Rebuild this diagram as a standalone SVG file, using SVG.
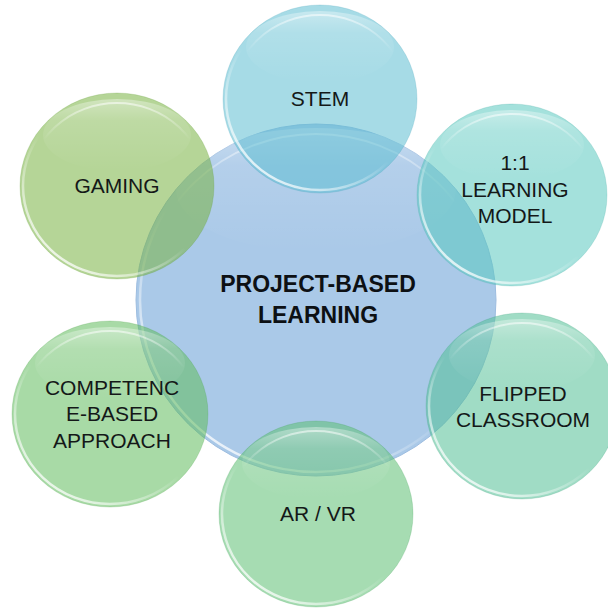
<svg xmlns="http://www.w3.org/2000/svg" width="608" height="608" viewBox="0 0 608 608">
  <defs>
    <!-- soft light cap near the top of each bubble -->
    <linearGradient id="gloss" x1="0" y1="0" x2="0" y2="1">
      <stop offset="0" stop-color="#ffffff" stop-opacity="0.38"/>
      <stop offset="0.3" stop-color="#ffffff" stop-opacity="0.12"/>
      <stop offset="1" stop-color="#ffffff" stop-opacity="0"/>
    </linearGradient>
    <!-- bright inner rim, strongest at the lower left -->
    <linearGradient id="rim" x1="0.15" y1="0.95" x2="0.75" y2="0.2">
      <stop offset="0" stop-color="#ffffff" stop-opacity="0.85"/>
      <stop offset="0.3" stop-color="#ffffff" stop-opacity="0.4"/>
      <stop offset="0.55" stop-color="#ffffff" stop-opacity="0"/>
    </linearGradient>
    <linearGradient id="rimTop" x1="0" y1="0" x2="0" y2="1">
      <stop offset="0" stop-color="#ffffff" stop-opacity="0.55"/>
      <stop offset="0.22" stop-color="#ffffff" stop-opacity="0"/>
    </linearGradient>
  </defs>
  <style>
    .body { fill-opacity: 0.55; stroke-opacity: 0.22; stroke-width: 1; }
    .core { stroke: #9dbde0; stroke-width: 1; }
    .gloss { fill: url(#gloss); }
    .rim { fill: none; stroke: url(#rim); stroke-width: 2.5; }
    .rimTop { fill: none; stroke: url(#rimTop); stroke-width: 2; }
    .label { font-family: "Liberation Sans", Arial, sans-serif; font-size: 21px; fill: #141818; text-anchor: middle; }
    .title { font-family: "Liberation Sans", Arial, sans-serif; font-size: 23px; font-weight: bold; fill: #0d1014; text-anchor: middle; }
  </style>

  <rect width="608" height="608" fill="#ffffff"/>

  <!-- central topic -->
  <g id="project-based-learning">
    <ellipse class="core" cx="316" cy="300" rx="180" ry="176" fill="#aac9e8"/>
    <ellipse class="gloss" cx="316" cy="190" rx="140" ry="62"/>
    <ellipse class="rim" cx="316" cy="300" rx="176" ry="172"/>
    <ellipse class="rimTop" cx="316" cy="300" rx="172" ry="166"/>
  </g>

  <!-- satellite topics -->
  <g id="stem">
    <ellipse class="body" cx="320" cy="99" rx="97" ry="94" fill="#5dbdd2" stroke="#3f9fb8"/>
    <ellipse class="gloss" cx="320" cy="47" rx="74" ry="36"/>
    <ellipse class="rim" cx="320" cy="99" rx="94" ry="91"/>
    <ellipse class="rimTop" cx="320" cy="99" rx="88" ry="84"/>
  </g>

  <g id="gaming">
    <ellipse class="body" cx="117" cy="186" rx="97" ry="93" fill="#78b342" stroke="#5e9a30"/>
    <ellipse class="gloss" cx="117" cy="135" rx="74" ry="36"/>
    <ellipse class="rim" cx="117" cy="186" rx="94" ry="90"/>
    <ellipse class="rimTop" cx="117" cy="186" rx="88" ry="83"/>
  </g>

  <g id="one-to-one-learning-model">
    <ellipse class="body" cx="512" cy="195" rx="95" ry="91" fill="#59c8bf" stroke="#3ca89f"/>
    <ellipse class="gloss" cx="512" cy="145" rx="72" ry="35"/>
    <ellipse class="rim" cx="512" cy="195" rx="92" ry="88"/>
    <ellipse class="rimTop" cx="512" cy="195" rx="86" ry="81"/>
  </g>

  <g id="flipped-classroom">
    <ellipse class="body" cx="522" cy="406" rx="96" ry="93" fill="#52bf96" stroke="#3aa07a"/>
    <ellipse class="gloss" cx="522" cy="355" rx="73" ry="36"/>
    <ellipse class="rim" cx="522" cy="406" rx="93" ry="90"/>
    <ellipse class="rimTop" cx="522" cy="406" rx="87" ry="83"/>
  </g>

  <g id="ar-vr">
    <ellipse class="body" cx="316" cy="514" rx="97" ry="93" fill="#5dbf73" stroke="#42a058"/>
    <ellipse class="gloss" cx="316" cy="463" rx="74" ry="36"/>
    <ellipse class="rim" cx="316" cy="514" rx="94" ry="90"/>
    <ellipse class="rimTop" cx="316" cy="514" rx="88" ry="83"/>
  </g>

  <g id="competence-based-approach">
    <ellipse class="body" cx="110" cy="414" rx="98" ry="93" fill="#61bc5d" stroke="#479e43"/>
    <ellipse class="gloss" cx="110" cy="363" rx="75" ry="36"/>
    <ellipse class="rim" cx="110" cy="414" rx="95" ry="90"/>
    <ellipse class="rimTop" cx="110" cy="414" rx="89" ry="83"/>
  </g>

  <!-- labels -->
  <g id="labels">
    <text class="title" x="318" y="292">PROJECT-BASED</text>
    <text class="title" x="318" y="323">LEARNING</text>
    <text class="label" x="320" y="106">STEM</text>
    <text class="label" x="117" y="193">GAMING</text>
    <text class="label" x="515" y="170">1:1</text>
    <text class="label" x="515" y="197">LEARNING</text>
    <text class="label" x="515" y="223">MODEL</text>
    <text class="label" x="523" y="401">FLIPPED</text>
    <text class="label" x="523" y="427">CLASSROOM</text>
    <text class="label" x="318" y="521">AR / VR</text>
    <text class="label" x="112" y="395">COMPETENC</text>
    <text class="label" x="112" y="421">E-BASED</text>
    <text class="label" x="112" y="448">APPROACH</text>
  </g>
</svg>
